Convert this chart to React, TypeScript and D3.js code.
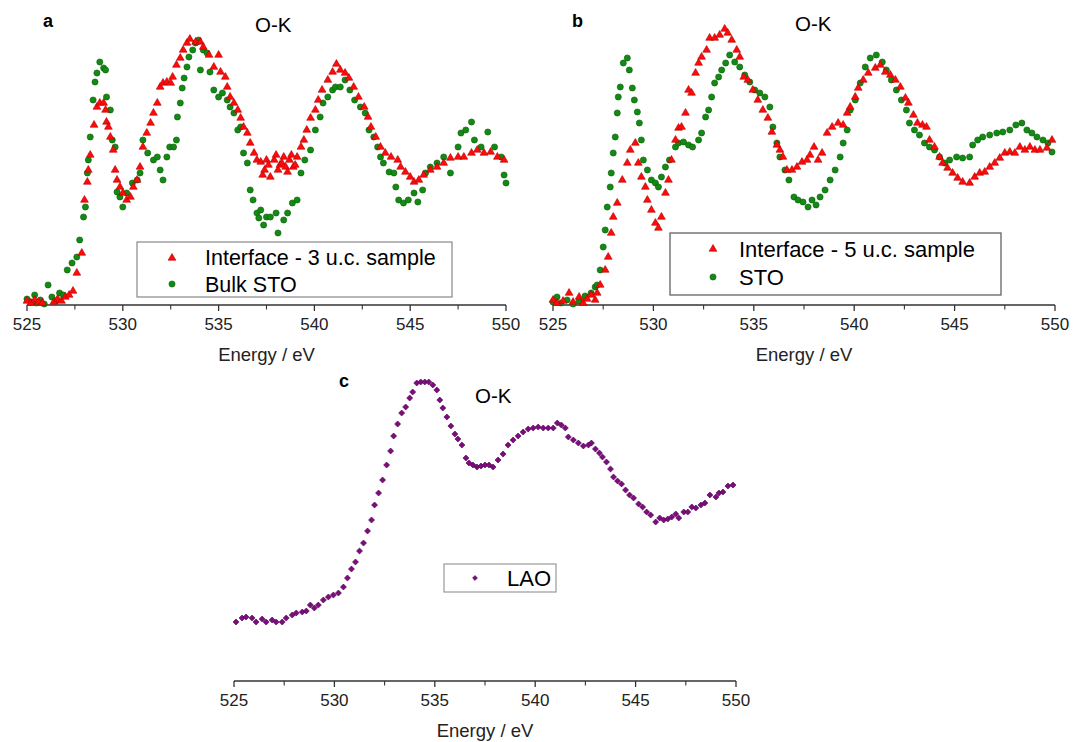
import React from "react";
import * as d3 from "d3";

// ---------- data (energy eV, intensity a.u.) ----------
const majorTicks = [525, 530, 535, 540, 545, 550];
const minorTicks = [527.5, 532.5, 537.5, 542.5, 547.5];

const aInterface3uc: [number, number][] = [
  [525.0,4],[525.2,2],[525.4,5],[525.6,3],[525.8,2],[526.4,3],[526.6,6],[526.8,4],[527.0,8],[527.2,10],[527.4,14],
  [527.6,32],[527.86,52],[528.0,105],[528.15,123],[528.2,135],[528.3,150],[528.5,180],[528.65,198],[528.8,202],[529.0,202],
  [529.1,195],[529.15,183],[529.25,178],[529.35,168],[529.5,155],[529.6,135],[529.7,125],[529.85,118],[530.0,112],[530.2,105],
  [530.4,108],[530.55,118],[530.75,125],[530.9,138],[531.05,158],[531.25,172],[531.45,182],[531.6,192],[531.8,202],[531.95,218],
  [532.1,222],[532.3,223],[532.5,222],[532.6,228],[532.8,240],[533.0,247],[533.15,255],[533.35,262],[533.5,266],[533.8,263],
  [534.05,263],[534.2,258],[534.5,250],[534.75,238],[535.0,250],[535.1,233],[535.35,228],[535.45,218],[535.6,208],[535.8,202],
  [536.0,195],[536.15,187],[536.3,178],[536.5,172],[536.65,162],[536.85,152],[537.0,145],[537.2,143],[537.3,130],[537.4,135],
  [537.5,145],[537.6,140],[537.7,128],[537.9,145],[538.0,150],[538.1,135],[538.2,140],[538.3,142],[538.4,148],[538.5,138],
  [538.6,133],[538.7,145],[538.8,150],[538.9,138],[539.0,140],[539.1,148],[539.3,158],[539.45,165],[539.6,175],[539.8,187],
  [540.05,195],[540.2,205],[540.4,215],[540.7,225],[540.95,233],[541.15,241],[541.35,235],[541.6,232],[541.8,227],[542.05,218],
  [542.3,208],[542.6,198],[542.8,188],[542.95,178],[543.2,168],[543.45,158],[543.7,152],[544.0,148],[544.35,145],[544.5,138],
  [544.75,133],[545.0,128],[545.2,123],[545.45,125],[545.7,130],[546.05,135],[546.4,138],[546.75,142],[547.1,147],[547.5,148],
  [547.8,148],[548.2,152],[548.5,155],[548.85,152],[549.2,153],[549.55,148],[549.9,145]
];

const aBulkSTO: [number, number][] = [
  [525.0,6],[525.2,3],[525.4,10],[525.5,2],[525.7,5],[525.9,1],[526.1,20],[526.3,8],[526.5,4],[526.7,12],[526.9,10],
  [527.1,35],[527.35,42],[527.6,48],[527.75,65],[527.95,88],[528.05,98],[528.15,132],[528.2,145],[528.3,168],[528.45,205],
  [528.55,223],[528.65,232],[528.8,243],[529.0,237],[529.1,235],[529.15,208],[529.35,195],[529.45,165],[529.6,158],[529.7,113],
  [529.85,108],[530.0,98],[530.2,112],[530.5,122],[530.75,125],[530.9,132],[531.05,165],[531.3,152],[531.6,145],[531.8,148],
  [531.95,135],[532.1,125],[532.3,148],[532.45,158],[532.65,158],[532.8,165],[532.85,188],[533.0,202],[533.1,217],[533.2,227],
  [533.35,238],[533.45,248],[533.65,255],[533.8,262],[533.95,265],[534.05,235],[534.2,255],[534.4,252],[534.55,233],[534.75,215],
  [535.0,208],[535.2,212],[535.45,205],[535.6,198],[535.8,192],[536.0,175],[536.15,178],[536.3,152],[536.5,142],[536.65,115],
  [536.8,105],[537.0,92],[537.1,87],[537.2,95],[537.35,80],[537.5,88],[537.7,88],[538.0,92],[538.1,72],[538.4,85],
  [538.6,92],[538.85,102],[539.1,105],[539.3,132],[539.5,145],[539.8,155],[540.05,175],[540.3,188],[540.45,202],[540.7,208],
  [540.95,215],[541.1,218],[541.35,218],[541.6,225],[541.85,215],[542.1,205],[542.4,198],[542.65,192],[542.85,175],[543.1,168],
  [543.3,158],[543.45,148],[543.6,142],[543.9,133],[544.15,132],[544.25,118],[544.4,105],[544.65,102],[544.9,105],[545.2,112],
  [545.4,103],[545.65,115],[545.8,132],[546.05,138],[546.4,142],[546.75,148],[547.1,132],[547.5,158],[547.65,172],[547.9,175],
  [548.2,183],[548.35,165],[548.7,158],[549.05,173],[549.4,158],[549.75,148],[549.9,130],[550.0,122]
];

const bInterface5uc: [number, number][] = [
  [525.0,5],[525.2,2],[525.5,4],[525.8,12],[526.0,3],[526.3,8],[526.5,2],[526.7,6],[526.9,10],[527.1,5],[527.2,12],
  [527.35,20],[527.6,35],[527.75,48],[527.9,72],[528.0,88],[528.2,102],[528.45,125],[528.7,142],[528.85,155],[529.1,162],
  [529.25,142],[529.4,128],[529.6,118],[529.7,105],[529.9,95],[530.1,82],[530.25,77],[530.4,88],[530.6,112],[530.75,125],
  [530.9,145],[531.1,165],[531.25,177],[531.4,178],[531.6,192],[531.75,215],[531.9,212],[532.1,232],[532.25,242],[532.4,248],
  [532.65,255],[532.8,267],[533.05,267],[533.3,270],[533.55,276],[533.7,272],[533.9,265],[534.15,255],[534.3,248],[534.5,228],
  [534.7,225],[534.95,215],[535.2,205],[535.45,195],[535.7,187],[535.9,173],[536.15,160],[536.3,155],[536.45,148],[536.65,135],
  [536.9,135],[537.15,138],[537.4,143],[537.65,145],[537.8,150],[538.0,158],[538.2,145],[538.4,152],[538.65,172],[538.9,178],
  [539.2,182],[539.45,180],[539.65,192],[539.8,198],[540.05,208],[540.2,217],[540.45,225],[540.7,232],[541.05,237],[541.3,240],
  [541.55,233],[541.8,230],[542.05,225],[542.3,218],[542.55,207],[542.7,202],[542.95,190],[543.15,182],[543.4,180],[543.6,178],
  [543.75,165],[544.0,158],[544.25,148],[544.4,142],[544.65,137],[544.9,132],[545.15,127],[545.4,123],[545.75,122],[546.0,128],
  [546.25,132],[546.5,133],[546.75,138],[547.0,142],[547.25,147],[547.5,152],[547.75,153],[548.0,152],[548.25,158],[548.5,155],
  [548.75,158],[549.0,155],[549.25,155],[549.6,157],[549.85,165]
];

const bSTO: [number, number][] = [
  [525.0,3],[525.2,8],[525.4,2],[525.7,5],[526.0,1],[526.3,4],[526.6,9],[526.9,12],[527.1,18],
  [527.2,20],[527.35,35],[527.5,58],[527.6,75],[527.7,98],[527.85,118],[527.9,132],[528.0,152],[528.1,168],[528.2,192],
  [528.25,208],[528.35,218],[528.5,242],[528.7,247],[528.8,235],[528.95,217],[529.05,205],[529.2,193],[529.3,182],[529.4,165],
  [529.5,145],[529.7,135],[529.9,125],[530.1,122],[530.25,118],[530.4,128],[530.6,138],[530.8,145],[531.1,158],[531.25,162],
  [531.5,163],[531.75,160],[531.95,158],[532.25,165],[532.4,172],[532.6,188],[532.75,195],[532.9,208],[533.05,222],[533.25,228],
  [533.4,235],[533.6,242],[533.8,250],[534.05,243],[534.3,238],[534.55,230],[534.8,223],[535.05,215],[535.3,212],[535.55,208],
  [535.8,198],[535.95,178],[536.15,162],[536.3,148],[536.55,135],[536.75,125],[537.0,108],[537.2,105],[537.45,103],[537.7,98],
  [537.9,105],[538.1,100],[538.3,108],[538.55,115],[538.8,125],[539.05,135],[539.3,148],[539.45,162],[539.65,175],[539.8,195],
  [540.05,205],[540.3,222],[540.55,238],[540.8,247],[541.1,250],[541.4,243],[541.6,235],[541.85,225],[542.1,215],[542.35,205],
  [542.6,195],[542.75,182],[543.0,175],[543.25,170],[543.5,162],[543.75,158],[544.0,155],[544.25,148],[544.5,142],[544.75,145],
  [545.1,148],[545.4,147],[545.75,148],[545.9,160],[546.15,165],[546.4,168],[546.75,170],[547.1,172],[547.4,173],[547.75,175],
  [548.05,180],[548.35,182],[548.6,175],[548.85,172],[549.1,168],[549.4,165],[549.65,162],[549.85,153]
];

const cLAO: [number, number][] = [
  [525.1,59],[525.4,63],[525.6,64],[525.9,63],[526.1,59],[526.4,62],[526.6,59],[526.9,61],[527.1,59],[527.4,59],[527.6,63],
  [527.9,66],[528.1,68],[528.4,69],[528.6,70],[528.8,76],[529.0,73],[529.2,76],[529.45,81],[529.7,84],[529.95,86],[530.2,88],
  [530.45,94],[530.65,103],[530.85,112],[531.05,119],[531.25,130],[531.45,138],[531.65,150],[531.85,161],[532.0,176],[532.2,188],
  [532.4,201],[532.6,216],[532.8,230],[532.95,245],[533.15,257],[533.35,268],[533.55,274],[533.75,283],[533.9,289],[534.1,298],
  [534.3,299],[534.5,299],[534.7,299],[534.9,296],[535.1,291],[535.25,281],[535.4,273],[535.6,264],[535.8,255],[536.0,247],
  [536.15,242],[536.35,236],[536.55,223],[536.7,218],[536.9,216],[537.1,214],[537.3,215],[537.5,216],[537.7,216],[537.9,214],
  [538.15,221],[538.4,227],[538.65,236],[538.9,241],[539.15,245],[539.4,249],[539.65,252],[539.9,253],[540.15,254],[540.4,253],
  [540.65,253],[540.9,253],[541.1,258],[541.3,256],[541.5,253],[541.65,244],[541.9,241],[542.15,238],[542.4,235],[542.65,236],
  [542.8,238],[543.0,232],[543.2,228],[543.35,224],[543.55,219],[543.75,212],[543.9,204],[544.1,200],[544.3,197],[544.5,191],
  [544.7,186],[544.9,183],[545.15,177],[545.35,174],[545.55,169],[545.75,166],[546.0,159],[546.2,163],[546.4,161],[546.6,162],
  [546.8,164],[547.0,167],[547.15,163],[547.4,169],[547.6,169],[547.8,174],[548.0,173],[548.25,176],[548.45,178],[548.7,186],
  [549.0,184],[549.15,188],[549.35,189],[549.6,195],[549.85,196]
];

const RED = "#ff0a0a";
const RED_EDGE = "#b30000";
const GREEN = "#138a13";
const GREEN_EDGE = "#0b5e0b";
const PURPLE = "#800a80";
const PURPLE_EDGE = "#4a064a";
const FONT = "Arial, 'Liberation Sans', Helvetica, sans-serif";

const triPath = d3.symbol().type(d3.symbolTriangle).size(26)()!;
const circPath = d3.symbol().type(d3.symbolCircle).size(30)()!;
const diaPath = d3.symbol().type(d3.symbolSquare).size(18)()!;
const diaLegendPath = d3.symbol().type(d3.symbolSquare).size(12)()!;

type Marker = "tri" | "circ" | "dia" | "diaL";
function Mark({ kind, x, y }: { kind: Marker; x: number; y: number }) {
  if (kind === "tri")
    return <path d={triPath} transform={`translate(${x},${y})`} fill={RED} stroke={RED_EDGE} strokeWidth={0.6} />;
  if (kind === "circ")
    return <path d={circPath} transform={`translate(${x},${y})`} fill={GREEN} stroke={GREEN_EDGE} strokeWidth={0.6} />;
  return (
    <path d={kind === "dia" ? diaPath : diaLegendPath} transform={`translate(${x},${y}) rotate(45)`}
      fill={PURPLE} stroke={PURPLE_EDGE} strokeWidth={0.6} />
  );
}

function Axis({ x, y0 }: { x: d3.ScaleLinear<number, number>; y0: number }) {
  const [r0, r1] = x.range();
  return (
    <g>
      <line x1={r0} x2={r1} y1={y0} y2={y0} stroke="#333" strokeWidth={1.5} />
      {majorTicks.map((t) => (
        <g key={t}>
          <line x1={x(t)} x2={x(t)} y1={y0} y2={y0 + 6} stroke="#333" strokeWidth={1.3} />
          <text x={x(t)} y={y0 + 25} textAnchor="middle" fontSize={17} fontFamily={FONT} fill="#222">{t}</text>
        </g>
      ))}
      {minorTicks.map((t) => (
        <line key={t} x1={x(t)} x2={x(t)} y1={y0} y2={y0 + 4.5} stroke="#333" strokeWidth={1.1} />
      ))}
      <text x={(r0 + r1) / 2} y={y0 + 56} textAnchor="middle" fontSize={18.5} fontFamily={FONT} fill="#222">Energy / eV</text>
    </g>
  );
}

export default function App() {
  const xa = d3.scaleLinear().domain([525, 550]).range([27, 506]);
  const ya = d3.scaleLinear().domain([0, 267]).range([305, 38]);
  const xb = d3.scaleLinear().domain([525, 550]).range([553, 1055]);
  const yb = d3.scaleLinear().domain([0, 267]).range([305, 38]);
  const xc = d3.scaleLinear().domain([525, 550]).range([234, 736]);
  const yc = d3.scaleLinear().domain([0, 300]).range([681, 381]);

  return (
    <svg width={1083} height={742} style={{ position: "absolute", left: 0, top: 0, background: "#fff" }}>
      <rect x={0} y={0} width={1083} height={742} fill="#fff" />
      {/* Panel a */}
      <text x={43} y={27} fontSize={18} fontWeight="bold" fontFamily={FONT}>a</text>
      <text x={255} y={32} fontSize={20.5} fontFamily={FONT}>O-K</text>
      <Axis x={xa} y0={305} />
      {aBulkSTO.map((d, i) => <Mark key={"ag" + i} kind="circ" x={xa(d[0])} y={ya(d[1])} />)}
      {aInterface3uc.map((d, i) => <Mark key={"ar" + i} kind="tri" x={xa(d[0])} y={ya(d[1])} />)}
      <rect x={137} y={242} width={315} height={55} fill="#fff" stroke="#888" strokeWidth={1.2} />
      <Mark kind="tri" x={172} y={258} />
      <text x={205} y={265} fontSize={21.5} fontFamily={FONT}>Interface - 3 u.c. sample</text>
      <Mark kind="circ" x={172} y={284} />
      <text x={205} y={292} fontSize={21.5} fontFamily={FONT}>Bulk STO</text>

      {/* Panel b */}
      <text x={572} y={27} fontSize={18} fontWeight="bold" fontFamily={FONT}>b</text>
      <text x={795} y={31} fontSize={20.5} fontFamily={FONT}>O-K</text>
      <Axis x={xb} y0={305} />
      {bSTO.map((d, i) => <Mark key={"bg" + i} kind="circ" x={xb(d[0])} y={yb(d[1])} />)}
      {bInterface5uc.map((d, i) => <Mark key={"br" + i} kind="tri" x={xb(d[0])} y={yb(d[1])} />)}
      <rect x={670} y={233} width={331} height={62} fill="#fff" stroke="#555" strokeWidth={1.2} />
      <Mark kind="tri" x={713} y={249} />
      <text x={739} y={257} fontSize={22} fontFamily={FONT}>Interface - 5 u.c. sample</text>
      <Mark kind="circ" x={713} y={277} />
      <text x={739} y={285} fontSize={22} fontFamily={FONT}>STO</text>

      {/* Panel c */}
      <text x={339} y={387} fontSize={18} fontWeight="bold" fontFamily={FONT}>c</text>
      <text x={475} y={403} fontSize={20.5} fontFamily={FONT}>O-K</text>
      <Axis x={xc} y0={681} />
      {cLAO.map((d, i) => <Mark key={"c" + i} kind="dia" x={xc(d[0])} y={yc(d[1])} />)}
      <rect x={444} y={564} width={112} height={28} fill="#fff" stroke="#999" strokeWidth={1.2} />
      <Mark kind="diaL" x={475} y={578} />
      <text x={507} y={586} fontSize={22} fontFamily={FONT}>LAO</text>
    </svg>
  );
}
